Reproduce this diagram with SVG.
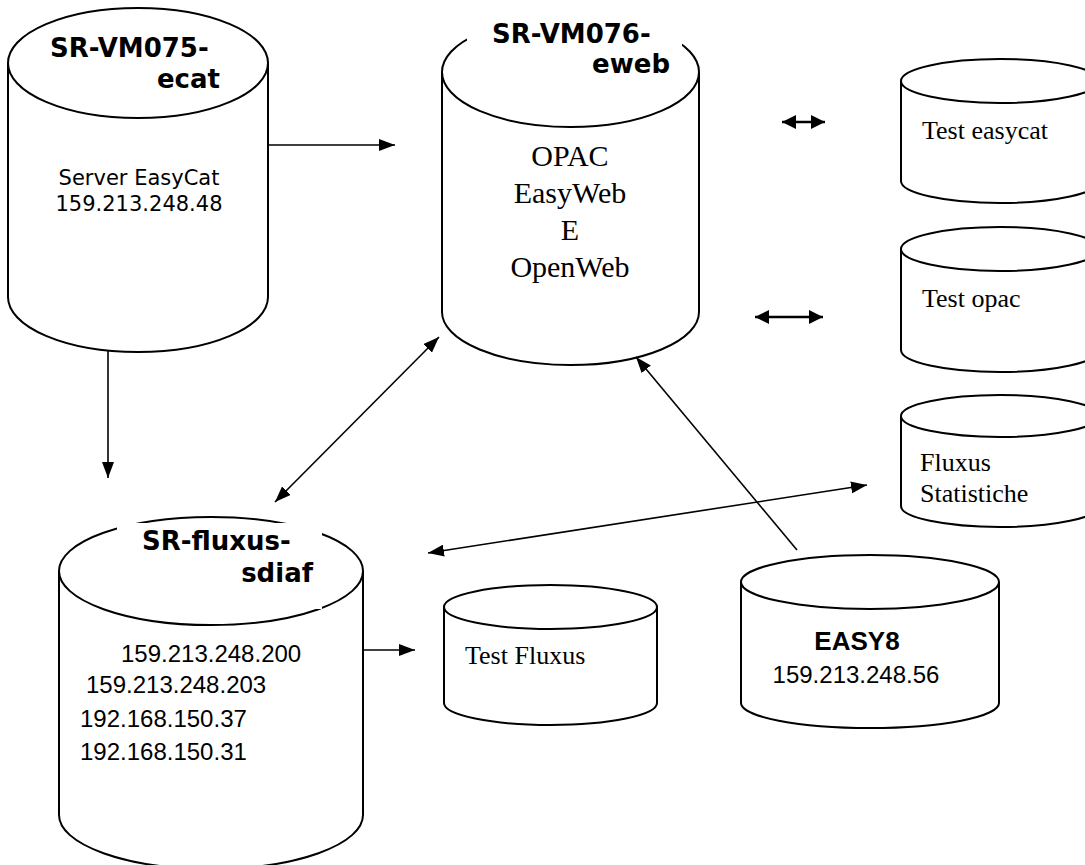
<svg xmlns="http://www.w3.org/2000/svg" width="1085" height="865" viewBox="0 0 1085 865">
<style>
.cyl{fill:#fff;stroke:#000;stroke-width:2}
.mask{fill:#fff;stroke:none}
.title{font-family:"DejaVu Sans",Verdana,sans-serif;font-weight:bold;font-size:26px;fill:#000}
.verd{font-family:"DejaVu Sans",Verdana,sans-serif;font-size:21px;fill:#000}
.serif{font-family:"Liberation Serif","Times New Roman",serif;font-size:26px;fill:#000}
.serifL{font-family:"Liberation Serif","Times New Roman",serif;font-size:30px;fill:#000}
.sans{font-family:"Liberation Sans",Arial,sans-serif;font-size:24px;fill:#000}
.sansB{font-family:"Liberation Sans",Arial,sans-serif;font-size:26px;font-weight:bold;fill:#000}
.conn{stroke:#000;stroke-width:1.6;fill:none}
.conn2{stroke:#000;stroke-width:2.4;fill:none}
</style>
<defs>
<marker id="ah" viewBox="0 0 16 12" refX="16" refY="6" markerWidth="16" markerHeight="12" markerUnits="userSpaceOnUse" orient="auto-start-reverse"><path d="M0,0 L16,6 L0,12 z" fill="#000"/></marker>
<marker id="ah2" viewBox="0 0 14 14" refX="14" refY="7" markerWidth="14" markerHeight="14" markerUnits="userSpaceOnUse" orient="auto-start-reverse"><path d="M0,0 L14,7 L0,14 z" fill="#000"/></marker>
</defs>
<rect width="1085" height="865" fill="#fff"/>

<g id="n-vm075">
<path class="cyl" d="M8,63 L8,297 A130,55 0 0 0 268,297 L268,63"/>
<ellipse class="cyl" cx="138" cy="63" rx="130" ry="55"/>
<rect class="mask" x="40" y="30" width="190" height="68"/>
<text class="title" x="50" y="57">SR-VM075-</text>
<text class="title" x="220" y="88" text-anchor="end">ecat</text>
<text class="verd" x="139" y="185" text-anchor="middle">Server EasyCat</text>
<text class="verd" x="139" y="211" text-anchor="middle">159.213.248.48</text>
</g>

<g id="n-vm076">
<path class="cyl" d="M442,72 L442,312 A128.5,53 0 0 0 699,312 L699,72"/>
<ellipse class="cyl" cx="570.5" cy="72" rx="128.5" ry="55"/>
<rect class="mask" x="467" y="4" width="215" height="93"/>
<text class="title" x="492" y="43">SR-VM076-</text>
<text class="title" x="670" y="73" text-anchor="end">eweb</text>
<text class="serifL" x="570" y="166" text-anchor="middle">OPAC</text>
<text class="serifL" x="570" y="203" text-anchor="middle">EasyWeb</text>
<text class="serifL" x="570" y="240" text-anchor="middle">E</text>
<text class="serifL" x="570" y="277" text-anchor="middle">OpenWeb</text>
</g>

<g id="n-fluxus">
<path class="cyl" d="M59,571 L59,815 A152,54 0 0 0 363,815 L363,571"/>
<ellipse class="cyl" cx="211" cy="571" rx="152" ry="54"/>
<rect class="mask" x="117" y="523" width="205" height="86"/>
<text class="title" x="142" y="550">SR-fluxus-</text>
<text class="title" x="313" y="582" text-anchor="end">sdiaf</text>
<text class="sans" x="121" y="662">159.213.248.200</text>
<text class="sans" x="86" y="693">159.213.248.203</text>
<text class="sans" x="80" y="727">192.168.150.37</text>
<text class="sans" x="80" y="760">192.168.150.31</text>
</g>

<g id="n-testfluxus">
<path class="cyl" d="M444,607 L444,703 A106.5,22 0 0 0 657,703 L657,607"/>
<ellipse class="cyl" cx="550.5" cy="607" rx="106.5" ry="22"/>
<text class="serif" x="465" y="664">Test Fluxus</text>
</g>

<g id="n-easy8">
<path class="cyl" d="M741,582 L741,703 A129,25 0 0 0 999,703 L999,582"/>
<ellipse class="cyl" cx="870" cy="582" rx="129" ry="27"/>
<text class="sansB" x="857" y="650" text-anchor="middle">EASY8</text>
<text class="sans" x="856" y="683" text-anchor="middle">159.213.248.56</text>
</g>

<g id="n-testeasycat">
<path class="cyl" d="M901,81 L901,181 A99,22 0 0 0 1099,181 L1099,81"/>
<ellipse class="cyl" cx="1000" cy="81" rx="99" ry="22"/>
<text class="serif" x="922" y="139">Test easycat</text>
</g>

<g id="n-testopac">
<path class="cyl" d="M901,249 L901,350 A99,22 0 0 0 1099,350 L1099,249"/>
<ellipse class="cyl" cx="1000" cy="249" rx="99" ry="22"/>
<text class="serif" x="922" y="307">Test opac</text>
</g>

<g id="n-fluxusstat">
<path class="cyl" d="M901,416 L901,506 A99,21 0 0 0 1099,506 L1099,416"/>
<ellipse class="cyl" cx="1000" cy="416" rx="99" ry="21"/>
<text class="serif" x="920" y="471">Fluxus</text>
<text class="serif" x="920" y="502">Statistiche</text>
</g>

<g id="connectors">
<line class="conn" x1="268" y1="145" x2="395" y2="145" marker-end="url(#ah)"/>
<line class="conn" x1="108" y1="350" x2="108" y2="478" marker-end="url(#ah)"/>
<line class="conn" x1="439" y1="337" x2="275" y2="502" marker-start="url(#ah)" marker-end="url(#ah)"/>
<line class="conn" x1="797" y1="550" x2="636" y2="357" marker-end="url(#ah)"/>
<line class="conn" x1="867" y1="485" x2="428" y2="553" marker-start="url(#ah)" marker-end="url(#ah)"/>
<line class="conn" x1="363" y1="650" x2="415" y2="650" marker-end="url(#ah)"/>
<line class="conn2" x1="782" y1="122" x2="825" y2="122" marker-start="url(#ah2)" marker-end="url(#ah2)"/>
<line class="conn2" x1="755" y1="317" x2="823" y2="317" marker-start="url(#ah2)" marker-end="url(#ah2)"/>
</g>
</svg>
